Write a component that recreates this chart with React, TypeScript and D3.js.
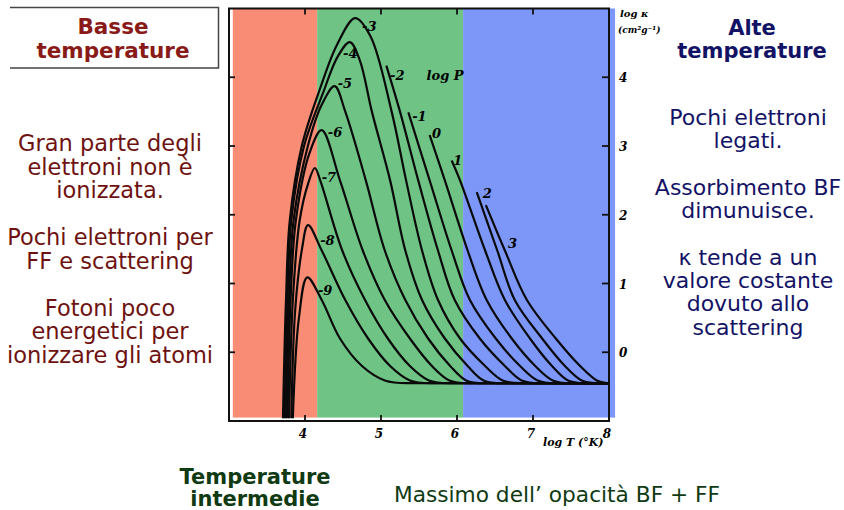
import React, { useEffect, useRef } from "react";
import * as d3 from "d3";

// log P labels, one per curve
const logP = [-9, -8, -7, -6, -5, -4, -3, -2, -1, 0, 1, 2, 3];

// [log T, log kappa]; every curve ends on the scattering floor
const curveM9 = [[3.84, -0.96], [3.92, 0.5], [4.03, 1.09], [4.22, 0.76], [4.46, 0.2], [4.75, -0.2], [5.05, -0.41], [5.35, -0.45], [8.0, -0.45]];
const curveM8 = [[3.82, -0.96], [3.87, 0.6], [3.96, 1.5], [4.04, 1.85], [4.22, 1.48], [4.53, 0.76], [4.83, 0.2], [5.12, -0.2], [5.38, -0.41], [5.65, -0.45], [8.0, -0.45]];
const curveM7 = [[3.79, -0.96], [3.84, 0.76], [3.93, 1.92], [4.04, 2.45], [4.13, 2.68], [4.2, 2.5], [4.49, 1.48], [4.79, 0.76], [5.09, 0.2], [5.38, -0.2], [5.63, -0.41], [5.9, -0.45], [8.0, -0.45]];
const curveM6 = [[3.77, -0.96], [3.81, 0.76], [3.88, 1.92], [4.06, 2.9], [4.22, 3.23], [4.46, 2.5], [4.76, 1.48], [5.05, 0.76], [5.38, 0.2], [5.67, -0.2], [5.9, -0.41], [6.15, -0.45], [8.0, -0.45]];
const curveM5 = [[3.75, -0.96], [3.79, 0.76], [3.85, 1.92], [4.04, 3.01], [4.22, 3.6], [4.39, 3.87], [4.53, 3.5], [4.8, 2.5], [5.05, 1.48], [5.32, 0.76], [5.62, 0.2], [5.91, -0.2], [6.12, -0.41], [6.37, -0.45], [8.0, -0.45]];
const curveM4 = [[3.73, -0.96], [3.77, 0.76], [3.82, 1.92], [3.99, 3.01], [4.24, 3.78], [4.43, 4.3], [4.59, 4.51], [4.72, 4.25], [4.88, 3.5], [5.12, 2.5], [5.32, 1.48], [5.54, 0.76], [5.84, 0.2], [6.14, -0.2], [6.35, -0.41], [6.6, -0.45], [8.0, -0.45]];
const curveM3 = [[3.71, -0.96], [3.75, 0.76], [3.8, 1.92], [3.96, 3.01], [4.2, 3.84], [4.42, 4.47], [4.66, 4.86], [4.86, 4.6], [5.14, 3.5], [5.33, 2.5], [5.54, 1.48], [5.75, 0.76], [6.04, 0.2], [6.37, -0.2], [6.6, -0.41], [6.85, -0.45], [8.0, -0.45]];
const curveM2 = [[5.07, 4.17], [5.25, 3.5], [5.49, 2.5], [5.75, 1.48], [5.97, 0.76], [6.3, 0.2], [6.63, -0.2], [6.85, -0.41], [7.1, -0.45], [8.0, -0.45]];
const curveM1 = [[5.36, 3.49], [5.64, 2.5], [5.93, 1.48], [6.17, 0.76], [6.51, 0.2], [6.83, -0.2], [7.06, -0.41], [7.3, -0.45], [8.0, -0.45]];
const curveP0 = [[5.64, 3.16], [5.84, 2.5], [6.14, 1.48], [6.39, 0.76], [6.72, 0.2], [7.03, -0.2], [7.26, -0.41], [7.5, -0.45], [8.0, -0.45]];
const curveP1 = [[5.93, 2.79], [6.04, 2.5], [6.37, 1.48], [6.63, 0.76], [6.96, 0.2], [7.25, -0.2], [7.46, -0.41], [7.68, -0.45], [8.0, -0.45]];
const curveP2 = [[6.26, 2.33], [6.53, 1.48], [6.76, 0.76], [7.12, 0.2], [7.42, -0.2], [7.64, -0.41], [7.84, -0.45], [8.0, -0.45]];
const curveP3 = [[6.38, 2.14], [6.63, 1.48], [6.92, 0.76], [7.3, 0.2], [7.62, -0.2], [7.84, -0.41], [7.97, -0.45], [8.0, -0.45]];

const curves = [curveM9, curveM8, curveM7, curveM6, curveM5, curveM4, curveM3, curveM2, curveM1, curveP0, curveP1, curveP2, curveP3];

// where each log P number is written (log T, log kappa of the label start)
const labelPos = [[4.17, 0.83], [4.2, 1.56], [4.22, 2.47], [4.3, 3.13], [4.43, 3.84], [4.5, 4.28], [4.75, 4.68], [5.12, 3.96], [5.41, 3.37], [5.67, 3.11], [5.95, 2.72], [6.34, 2.25], [6.67, 1.51]];

const xTicks = [4, 5, 6, 7, 8];
const yTicks = [0, 1, 2, 3, 4];

// temperature regimes
const bands = [
  { from: 3.05, to: 4.16, color: "#F98C75" },
  { from: 4.16, to: 6.08, color: "#6FC384" },
  { from: 6.08, to: 8.08, color: "#7D97F9" },
];

const leftText = ["Gran parte degli", "elettroni non è", "ionizzata.", "", "Pochi elettroni per", "FF e scattering", "", "Fotoni poco", "energetici per", "ionizzare gli atomi"];
const rightText = ["Pochi elettroni", "legati.", "", "Assorbimento BF", "dimunuisce.", "", "κ tende a un", "valore costante", "dovuto allo", "scattering"];

const App = () => {
  const svgRef = useRef(null);

  useEffect(() => {
    const svg = d3.select(svgRef.current);
    svg.selectAll("*").remove();

    const x = d3.scaleLinear().domain([3, 8]).range([229, 609]);
    const y = d3.scaleLinear().domain([-1, 5]).range([421, 8.5]);
    const hand = "'DejaVu Serif', serif";

    svg.append("rect").attr("width", 844).attr("height", 510).attr("fill", "#fff");

    svg
      .selectAll("rect.band")
      .data(bands)
      .join("rect")
      .attr("class", "band")
      .attr("x", (d) => x(d.from))
      .attr("y", y(5))
      .attr("width", (d) => x(d.to) - x(d.from))
      .attr("height", y(-0.95) - y(5))
      .attr("fill", (d) => d.color);

    // frame
    svg
      .append("rect")
      .attr("x", x(3))
      .attr("y", y(5))
      .attr("width", x(8) - x(3))
      .attr("height", y(-1) - y(5))
      .attr("fill", "none")
      .attr("stroke", "#111")
      .attr("stroke-width", 2);

    const ticks = svg.append("g").attr("stroke", "#111").attr("stroke-width", 1.8);
    xTicks.forEach((t) => {
      ticks.append("line").attr("x1", x(t)).attr("x2", x(t)).attr("y1", y(-1)).attr("y2", y(-1) - 6);
      ticks.append("line").attr("x1", x(t)).attr("x2", x(t)).attr("y1", y(5)).attr("y2", y(5) + 6);
    });
    yTicks.forEach((t) => {
      ticks.append("line").attr("x1", x(8)).attr("x2", x(8) - 7).attr("y1", y(t)).attr("y2", y(t));
      ticks.append("line").attr("x1", x(3)).attr("x2", x(3) + 6).attr("y1", y(t)).attr("y2", y(t));
    });

    svg
      .selectAll("text.xt")
      .data(xTicks)
      .join("text")
      .attr("class", "xt")
      .attr("x", (d) => x(d) - 2)
      .attr("y", y(-1) + 17)
      .attr("text-anchor", "middle")
      .attr("font-family", hand)
      .attr("font-style", "italic")
      .attr("font-weight", "bold")
      .attr("font-size", 12)
      .text((d) => d);

    svg
      .selectAll("text.yt")
      .data(yTicks)
      .join("text")
      .attr("class", "yt")
      .attr("x", x(8) + 10)
      .attr("y", (d) => y(d) + 5)
      .attr("font-family", hand)
      .attr("font-style", "italic")
      .attr("font-weight", "bold")
      .attr("font-size", 12)
      .text((d) => d);

    const line = d3
      .line()
      .x((d) => x(d[0]))
      .y((d) => y(d[1]))
      .curve(d3.curveCatmullRom.alpha(0.5));

    // smooth curve down to the floor, then straight along it
    const curvePath = (pts) => {
      const last = pts[pts.length - 1];
      return line(pts.slice(0, -1)) + `L${x(last[0])},${y(last[1])}`;
    };

    svg
      .append("g")
      .selectAll("path")
      .data(curves)
      .join("path")
      .attr("d", (d) => curvePath(d))
      .attr("fill", "none")
      .attr("stroke", "#0a0a0a")
      .attr("stroke-width", 2.2);

    svg
      .selectAll("text.lp")
      .data(logP)
      .join("text")
      .attr("class", "lp")
      .attr("x", (d, i) => x(labelPos[i][0]))
      .attr("y", (d, i) => y(labelPos[i][1]))
      .attr("font-family", hand)
      .attr("font-style", "italic")
      .attr("font-weight", "bold")
      .attr("font-size", 13)
      .text((d) => (d < 0 ? "-" + Math.abs(d) : d));

    const note = (tx, ty, str, size) =>
      svg
        .append("text")
        .attr("x", tx)
        .attr("y", ty)
        .attr("font-family", hand)
        .attr("font-style", "italic")
        .attr("font-weight", "bold")
        .attr("font-size", size)
        .text(str);
    note(x(5.6), y(3.96), "log P", 13);
    note(620, 17, "log κ", 10);
    note(618, 33, "(cm²g⁻¹)", 9);
    note(543, 446, "log T (°K)", 11);

    // side panels
    const sans = "'DejaVu Sans', Verdana, sans-serif";
    svg
      .append("path")
      .attr("d", "M10,7.5 H218.5 V68 H10")
      .attr("fill", "none")
      .attr("stroke", "#444")
      .attr("stroke-width", 1.5);

    const block = (cx, lines, startY, step, color, weight, size) =>
      svg
        .append("g")
        .selectAll("text")
        .data(lines)
        .join("text")
        .attr("x", cx)
        .attr("y", (d, i) => startY + i * step)
        .attr("text-anchor", "middle")
        .attr("font-family", sans)
        .attr("font-size", size)
        .attr("font-weight", weight)
        .attr("fill", color)
        .text((d) => d);

    block(113, ["Basse", "temperature"], 34, 24, "#8A1A17", "bold", 21.5);
    block(110, leftText, 151, 23.5, "#6E1210", "normal", 22.5);
    block(752, ["Alte", "temperature"], 35, 23, "#131366", "bold", 21);
    block(748, rightText, 125, 23.3, "#131366", "normal", 22);
    block(255, ["Temperature", "intermedie"], 484, 22, "#0F3A12", "bold", 21);
    block(557, ["Massimo dell’ opacità BF + FF"], 502, 0, "#0F3A12", "normal", 21.7);
  }, []);

  return (
    <div style={{ position: "absolute", left: 0, top: 0 }}>
      <svg ref={svgRef} width={844} height={510}></svg>
    </div>
  );
};

export default App;
